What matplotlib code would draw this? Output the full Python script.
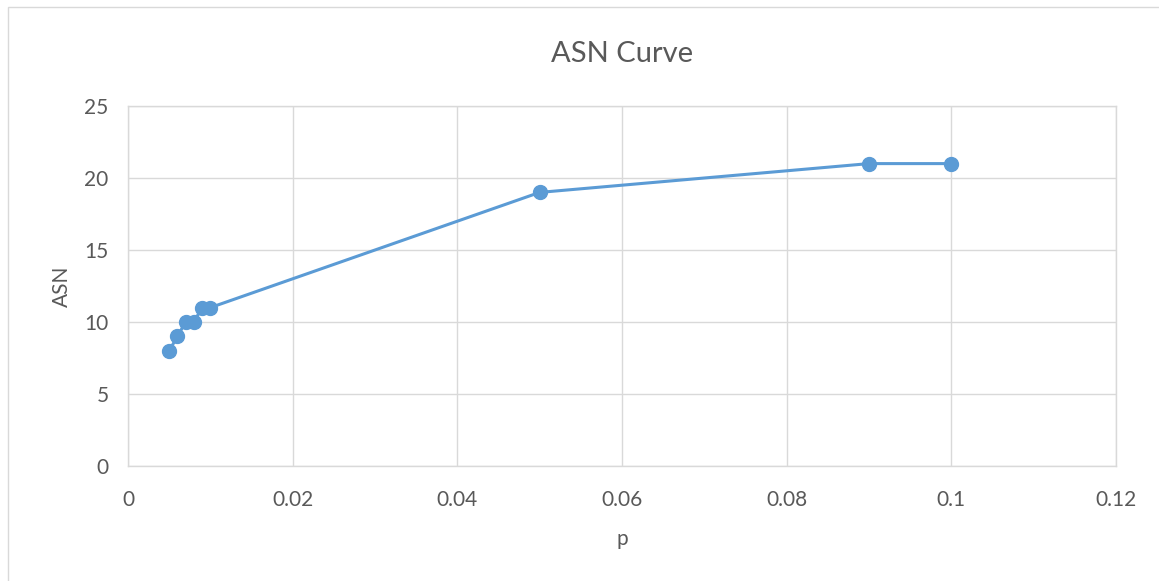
import matplotlib.pyplot as plt
from matplotlib.patches import Rectangle

# values
p = [0.005, 0.006, 0.007, 0.008, 0.009, 0.01, 0.05, 0.09, 0.1]
asn = [8, 9, 10, 10, 11, 11, 19, 21, 21]
x_ticks = [0, 0.02, 0.04, 0.06, 0.08, 0.1, 0.12]
x_tick_labels = ['0', '0.02', '0.04', '0.06', '0.08', '0.1', '0.12']
y_ticks = [0, 5, 10, 15, 20, 25]

BLUE = '#5B9BD5'
GRID = '#D9D9D9'
TEXT = '#595959'

plt.rcParams['font.family'] = ['Lato', 'DejaVu Sans']

fig = plt.figure(figsize=(11.59, 5.81), dpi=100)
fig.patches.append(Rectangle((8 / 1159, -0.1), 1.2, 1 - 7 / 581 + 0.1,
                             transform=fig.transFigure, fill=False,
                             edgecolor=GRID, linewidth=1))

ax = fig.add_axes([128 / 1159, 115 / 581, 988 / 1159, 360 / 581])
ax.plot(p, asn, color=BLUE, linewidth=2.2, marker='o', markersize=10,
        zorder=3, clip_on=False)

ax.set_xlim(0, 0.12)
ax.set_ylim(0, 25)
ax.set_xticks(x_ticks)
ax.set_xticklabels(x_tick_labels)
ax.set_yticks(y_ticks)
ax.grid(True, color=GRID, linewidth=1)
ax.set_axisbelow(True)
for s in ax.spines.values():
    s.set_color(GRID)
    s.set_linewidth(1)
ax.tick_params(length=0, labelsize=15, colors=TEXT)
ax.tick_params(axis='x', pad=17)
ax.tick_params(axis='y', pad=14)

ax.set_title('ASN Curve', fontsize=21, color=TEXT, pad=32)
ax.set_xlabel('p', fontsize=15, color=TEXT, labelpad=14)
ax.set_ylabel('ASN', fontsize=15, color=TEXT, labelpad=9)

fig.savefig('out.png', dpi=100)
